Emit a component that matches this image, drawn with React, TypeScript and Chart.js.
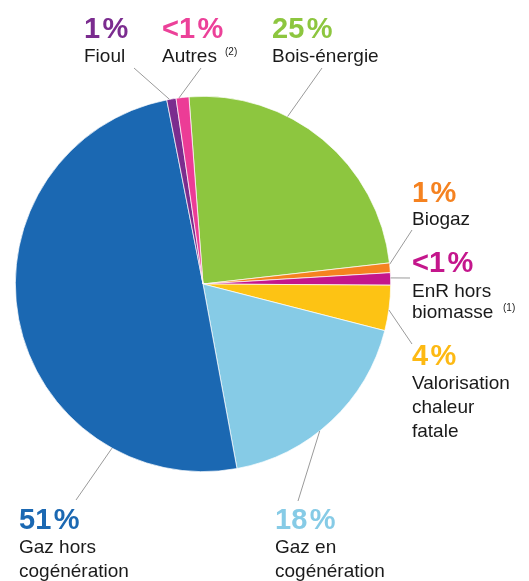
import React, { useEffect, useRef } from "react";
import { Chart, registerables } from "chart.js";

Chart.register(...registerables);

// ---- data ----
const categories = [
  "Bois-énergie",
  "Biogaz",
  "EnR hors biomasse",
  "Valorisation chaleur fatale",
  "Gaz en cogénération",
  "Gaz hors cogénération",
  "Fioul",
  "Autres",
];
const values = [24.4, 0.83, 1.06, 3.9, 18.1, 49.8, 0.8, 1.1];
const percentLabels = ["25 %", "1 %", "<1 %", "4 %", "18 %", "51 %", "1 %", "<1 %"];
const nameLines = [
  ["Bois-énergie"],
  ["Biogaz"],
  ["EnR hors", "biomasse"],
  ["Valorisation", "chaleur", "fatale"],
  ["Gaz en", "cogénération"],
  ["Gaz hors", "cogénération"],
  ["Fioul"],
  ["Autres"],
];
const superscripts = ["", "", "(1)", "", "", "", "", "(2)"];

// ---- styles / layout ----
const sliceColors = [
  "#8DC63F",
  "#F58220",
  "#C4168C",
  "#FDC314",
  "#86CBE6",
  "#1B68B2",
  "#7B2D8E",
  "#EC3C96",
];
const pctColors = [
  "#8DC63F",
  "#F58220",
  "#C4168C",
  "#FDB913",
  "#86CBE6",
  "#1B68B2",
  "#7B2C8F",
  "#EC4199",
];
// per label: text x, pct baseline, name baselines, superscript pos, leader outer point, fraction along slice arc
const labelLayout = [
  { x: 272, pctY: 38, lineY: [62], sup: null, lineOut: [322, 68], f: 0.354 },
  { x: 412, pctY: 202, lineY: [225], sup: null, lineOut: [412, 230], f: 0.15 },
  { x: 412, pctY: 272, lineY: [297, 318], sup: [503, 311], lineOut: [410, 278], f: 0.42 },
  { x: 412, pctY: 365, lineY: [389, 413, 437], sup: null, lineOut: [412, 344], f: 0.54 },
  { x: 275, pctY: 529, lineY: [553, 577], sup: null, lineOut: [298, 501], f: 0.57 },
  { x: 19, pctY: 529, lineY: [553, 577], sup: null, lineOut: [76, 500], f: 0.22 },
  { x: 84, pctY: 38, lineY: [62], sup: null, lineOut: [134, 68], f: 0.3 },
  { x: 162, pctY: 38, lineY: [62], sup: [225, 55], lineOut: [201, 68], f: 0.23 },
];

const FONT = '"Liberation Sans", Arial, Helvetica, sans-serif';

const labelPlugin = {
  id: "pieLabels",
  afterDraw(chart: any) {
    const ctx = chart.ctx as CanvasRenderingContext2D;
    const meta = chart.getDatasetMeta(0);
    ctx.save();
    meta.data.forEach((arc: any, i: number) => {
      const L = labelLayout[i];
      const p = arc.getProps(["x", "y", "startAngle", "endAngle", "outerRadius"], true);
      const a = p.startAngle + L.f * (p.endAngle - p.startAngle);
      const ix = p.x + Math.cos(a) * p.outerRadius;
      const iy = p.y + Math.sin(a) * p.outerRadius;
      ctx.strokeStyle = "#9a9a9a";
      ctx.lineWidth = 1;
      ctx.beginPath();
      ctx.moveTo(L.lineOut[0], L.lineOut[1]);
      ctx.lineTo(ix, iy);
      ctx.stroke();

      ctx.textAlign = "left";
      ctx.textBaseline = "alphabetic";
      ctx.fillStyle = pctColors[i];
      ctx.font = `bold 29px ${FONT}`;
      const pct = percentLabels[i].replace(" ", "\u200A");
      ctx.fillText(pct, L.x, L.pctY);

      ctx.fillStyle = "#1a1a1a";
      ctx.font = `19px ${FONT}`;
      nameLines[i].forEach((t, k) => ctx.fillText(t, L.x, L.lineY[k]));
      if (superscripts[i] && L.sup) {
        ctx.font = `10px ${FONT}`;
        ctx.fillText(superscripts[i], L.sup[0], L.sup[1]);
      }
    });
    ctx.restore();
  },
};

export default function App() {
  const ref = useRef<HTMLCanvasElement | null>(null);
  useEffect(() => {
    if (!ref.current) return;
    const chart = new Chart(ref.current, {
      type: "pie",
      data: {
        labels: categories,
        datasets: [
          {
            data: values,
            backgroundColor: sliceColors,
            borderColor: "#ffffff",
            borderWidth: 0.7,
          },
        ],
      },
      options: {
        animation: false,
        responsive: false,
        maintainAspectRatio: false,
        rotation: -4.3,
        layout: { padding: { left: 15, top: 96, right: 138, bottom: 109 } },
        plugins: { legend: { display: false }, tooltip: { enabled: false } },
      },
      plugins: [labelPlugin],
    });
    return () => chart.destroy();
  }, []);
  return (
    <div style={{ position: "absolute", left: 0, top: 0, width: 529, height: 581, background: "#fff" }}>
      <canvas ref={ref} width={529} height={581} style={{ width: 529, height: 581 }} />
    </div>
  );
}
